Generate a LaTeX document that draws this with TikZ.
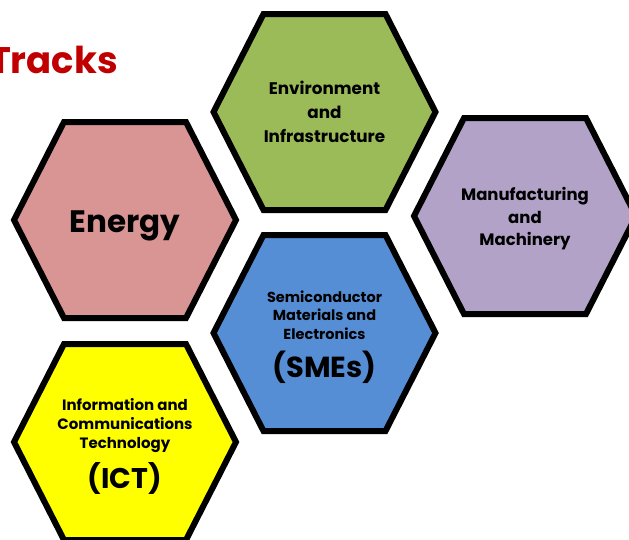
\documentclass[tikz,border=0pt]{standalone}
\usepackage{fontspec}
\setmainfont{Poppins}
\definecolor{titlered}{HTML}{C00000}
\definecolor{hexpink}{HTML}{D99594}
\definecolor{hexgreen}{HTML}{9BBB59}
\definecolor{hexpurple}{HTML}{B2A2C7}
\definecolor{hexblue}{HTML}{558ED5}
\definecolor{hexyellow}{HTML}{FFFF00}
\newcommand{\hexat}[3]{%
  \fill[#3] (#1-111,#2) -- (#1-61,#2-98) -- (#1+61,#2-98) -- (#1+111,#2) -- (#1+61,#2+98) -- (#1-61,#2+98) -- cycle;
  \draw[hexline] (#1-111,#2) -- (#1-61,#2-98) -- (#1+61,#2-98) -- (#1+111,#2) -- (#1+61,#2+98) -- (#1-61,#2+98) -- cycle;}
\begin{document}
\begin{tikzpicture}[x=1pt,y=-1pt,
  hexline/.style={line width=6pt, line join=miter, draw=black},
  lbl/.style={align=center, font=\bfseries, text=black, inner sep=0pt}]
\useasboundingbox (0,0) rectangle (629,539);
\clip (0,0) rectangle (629,539);
\hexat{125}{220}{hexpink}
\hexat{324.5}{112}{hexgreen}
\hexat{525}{216}{hexpurple}
\hexat{324.5}{333}{hexblue}
\hexat{125}{442}{hexyellow}
\node[anchor=base east, text=titlered, font=\fontsize{37}{40}\selectfont\bfseries, inner sep=0pt] (title) at (118,73) {Tracks};
\node[lbl, font=\fontsize{31}{34}\selectfont\bfseries] (energy) at (125,226) {Energy};
\node[lbl, font=\fontsize{16.8}{24}\selectfont\bfseries] (env) at (324.5,112) {Environment\\and\\Infrastructure};
\node[lbl, font=\fontsize{16.5}{22.5}\selectfont\bfseries] (manu) at (525,219) {Manufacturing\\and\\Machinery};
\node[lbl, font=\fontsize{14.5}{18.5}\selectfont\bfseries] (smes) at (324.5,315) {Semiconductor\\Materials and\\Electronics};
\node[lbl, font=\fontsize{29}{32}\selectfont\bfseries] (smesab) at (324.5,367) {(SMEs)};
\node[lbl, font=\fontsize{15}{19}\selectfont\bfseries] (ict) at (125,426) {Information and\\Communications\\Technology};
\node[lbl, font=\fontsize{28.5}{31}\selectfont\bfseries] (ictab) at (125,478) {(ICT)};
\end{tikzpicture}
\end{document}
